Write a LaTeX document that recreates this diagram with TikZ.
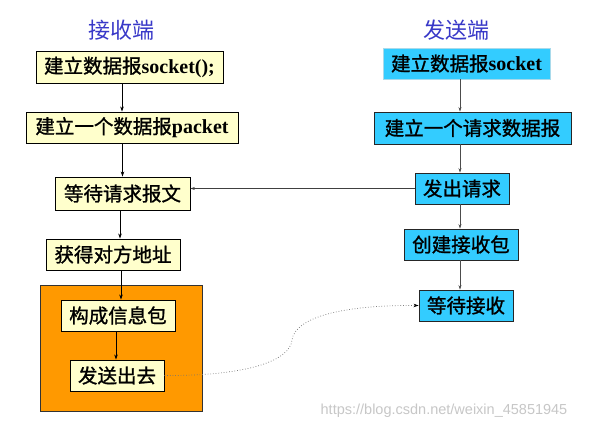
\documentclass[tikz,border=0pt]{standalone}
\usepackage{fontspec}
\setmainfont{Liberation Serif}
\newfontfamily\cjk{Noto Sans CJK SC}
\newfontfamily\cjkm{Noto Sans CJK SC}[FakeBold=1.2]
\newfontfamily\wmfont{Liberation Sans}
\usetikzlibrary{arrows.meta}
\definecolor{lyel}{HTML}{FFFFCC}
\definecolor{skyc}{HTML}{33CCFF}
\definecolor{orng}{HTML}{FF9900}
\definecolor{ttl}{HTML}{3838C8}
\tikzset{
  ybox/.style={draw=black, line width=0.9pt, fill=lyel, inner sep=0pt, font=\cjkm\fontsize{19.5}{21}\selectfont},
  cbox/.style={draw=black!85, line width=0.9pt, fill=skyc, inner sep=0pt, font=\cjkm\fontsize{19.5}{21}\selectfont},
  ttlstyle/.style={text=ttl, font=\cjk\fontsize{22}{24}\selectfont},
  arr/.style={black, line width=0.7pt, -{Stealth[length=5pt,width=3.5pt]}},
  garr/.style={black!70, line width=0.6pt, -{Stealth[length=4.5pt,width=3pt]}},
}
\newcommand{\lt}[1]{{\bfseries\rmfamily\fontsize{20}{21}\selectfont #1}}
\begin{document}
\begin{tikzpicture}[x=1pt,y=-1pt]
\fill[white] (0,0) rectangle (589,430);
\useasboundingbox (0,0) rectangle (589,430);
% titles
\node[ttlstyle] (T1) at (121,30) {接收端};
\node[ttlstyle] (T2) at (456,30) {发送端};
% orange frame
\node[draw=black!80, line width=0.8pt, fill=orng, minimum width=162pt, minimum height=126pt, inner sep=0pt] (OR) at (121,348) {};
% left column
\node[ybox, minimum width=187pt, minimum height=32pt] (R1) at (129.5,67) {建立数据报\lt{socket();}};
\node[ybox, minimum width=212pt, minimum height=31pt] (R2) at (132,127.5) {建立一个数据报\lt{packet}};
\node[ybox, minimum width=135pt, minimum height=33pt] (R3) at (122.5,193.5) {等待请求报文};
\node[ybox, minimum width=134pt, minimum height=31pt] (R4) at (113,254.5) {获得对方地址};
\node[ybox, minimum width=114pt, minimum height=31pt] (R5) at (118,315.5) {构成信息包};
\node[ybox, minimum width=94pt, minimum height=31pt] (R6) at (117,375.5) {发送出去};
% right column
\node[cbox, draw=skyc!80!black!40, minimum width=167pt, minimum height=31pt] (S1) at (466.5,63.5) {建立数据报\lt{socket}};
\node[cbox, minimum width=197pt, minimum height=32pt] (S2) at (472.5,128) {建立一个请求数据报};
\node[cbox, minimum width=94pt, minimum height=31pt] (S3) at (462,188.5) {发出请求};
\node[cbox, minimum width=114pt, minimum height=31pt] (S4) at (461,244.5) {创建接收包};
\node[cbox, minimum width=94pt, minimum height=31pt] (S5) at (466,305.5) {等待接收};
% left arrows
\coordinate (LX) at (122,0);
\draw[arr] (R1.south -| LX) -- (R2.north -| LX);
\draw[arr] (R2.south -| R3) -- (R3.north -| R3);
\draw[arr] (R3.south -| 120,0) -- (R4.north -| 120,0);
\draw[arr] (R4.south -| 121,0) -- (R5.north -| 121,0);
\draw[arr] (R5.south -| 116,0) -- (R6.north -| 116,0);
% right arrows
\coordinate (RX) at (460,0);
\draw[garr] (S1.south -| RX) -- (S2.north -| RX);
\draw[garr] (S2.south -| RX) -- (S3.north -| RX);
\draw[garr] (S3.south -| RX) -- (S4.north -| RX);
\draw[garr] (S4.south -| RX) -- (S5.north -| RX);
% request line
\draw[garr, black!75] (S3.west) -- (S3.west -| R3.east);
% dotted curve
\draw[black!55, line width=0.7pt, dotted, -{Stealth[length=5pt,width=3.5pt,black]}]
  (R6.east) .. controls (250,376) and (290,360) .. (292,340)
  .. controls (295,318) and (340,305) .. (S5.west);
% watermark
\node[text=black!22, font=\wmfont\fontsize{14.5}{16}\selectfont] (WM) at (444,411) {https://blog.csdn.net/weixin\_45851945};
\end{tikzpicture}
\end{document}
